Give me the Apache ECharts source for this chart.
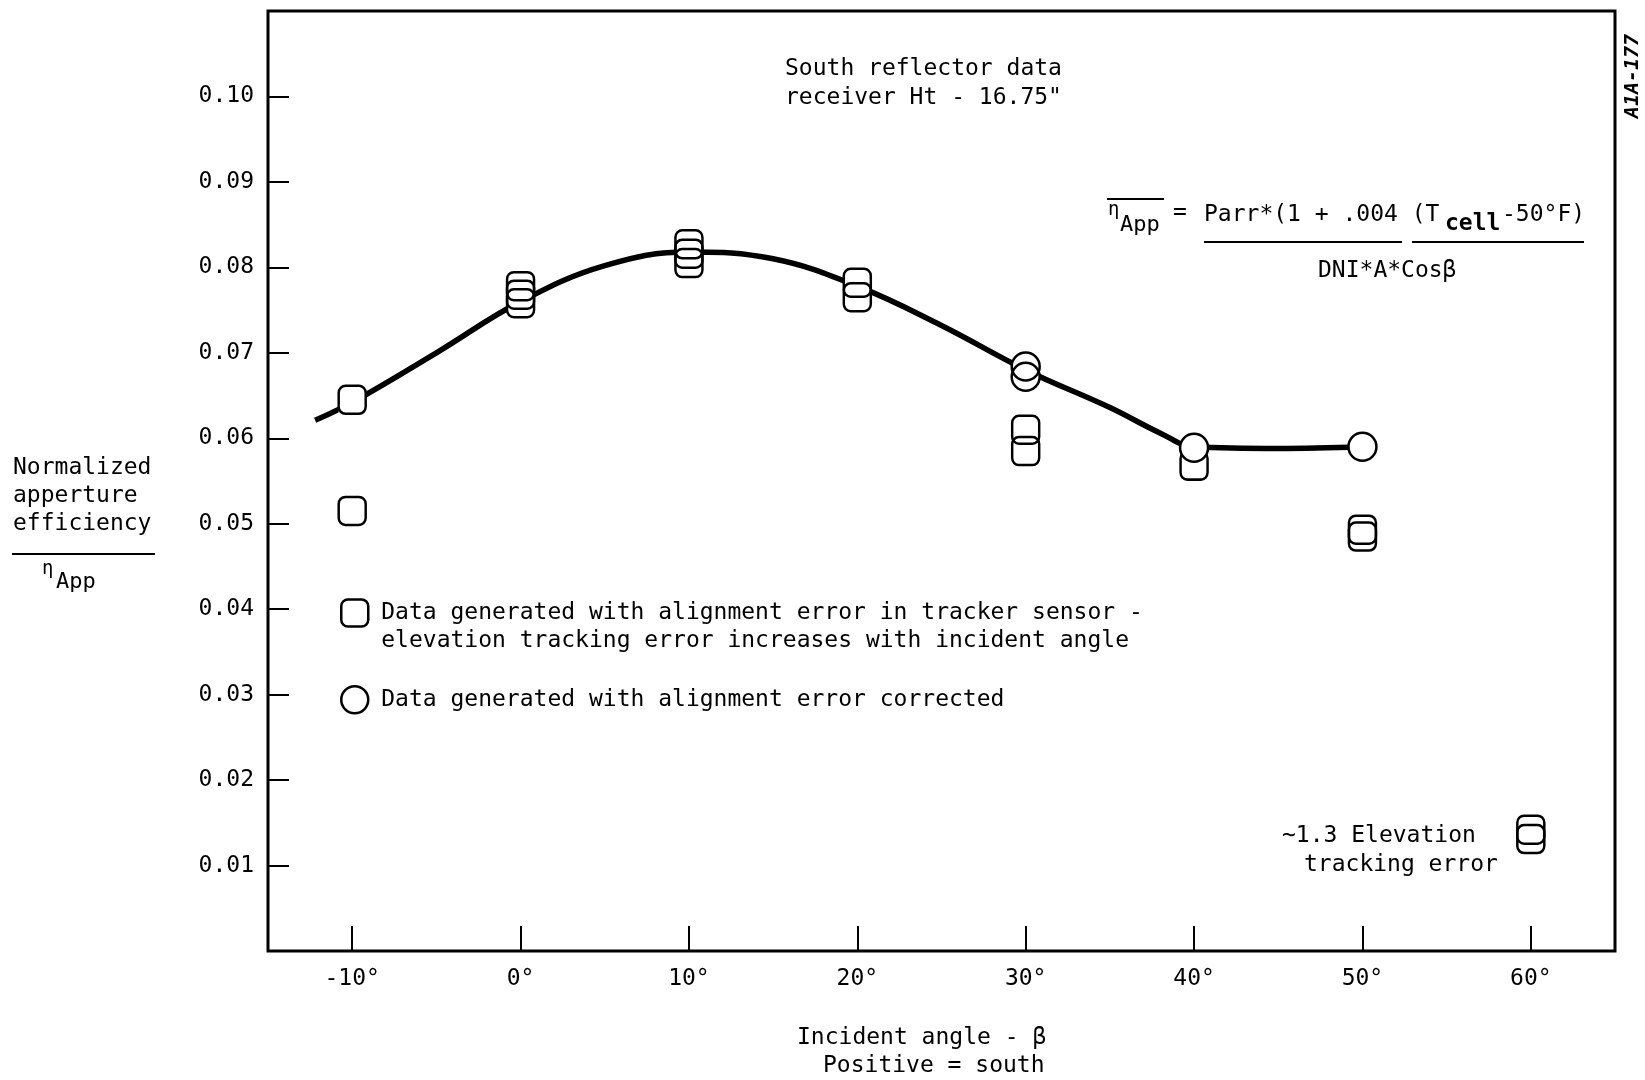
<!DOCTYPE html>
<html>
<head>
<meta charset="utf-8">
<script src="https://cdn.jsdelivr.net/npm/echarts@6/dist/echarts.min.js"></script>
<style>
  html, body { margin: 0; padding: 0; background: #fff; }
  #main { width: 1645px; height: 1080px; }
</style>
</head>
<body>
<div id="main"></div>
<script>
var chartDom = document.getElementById('main');
var myChart = echarts.init(chartDom);
var option;

// tick values
let xTicks = [-10, 0, 10, 20, 30, 40, 50, 60];
let yTicks = [0.01, 0.02, 0.03, 0.04, 0.05, 0.06, 0.07, 0.08, 0.09, 0.10];

// faired curve through the data
let curveX = [-12.2, -10, -5, 0, 5, 10, 15, 20, 25, 30, 35, 38, 40, 45, 50];
let curveY = [0.0621, 0.0642, 0.0700, 0.0760, 0.0802, 0.0818, 0.0810, 0.0778, 0.0732, 0.0680, 0.0636, 0.0606, 0.0590, 0.0588, 0.0590];

// squares: alignment error in tracker sensor
let squareX = [-10, -10, 0, 0, 0, 10, 10, 10, 20, 20, 30, 30, 40, 50, 50, 60, 60];
let squareY = [0.0645, 0.0515, 0.0778, 0.0768, 0.0758, 0.0827, 0.0816, 0.0805, 0.0782, 0.0765, 0.0610, 0.0585, 0.0568, 0.0493, 0.0485, 0.0142, 0.0131];

// circles: alignment error corrected
let circleX = [30, 30, 40, 50];
let circleY = [0.0684, 0.0672, 0.0589, 0.0590];

let squareName = 'Data generated with alignment error in tracker sensor -\nelevation tracking error increases with incident angle';
let circleName = 'Data generated with alignment error corrected';

const FONT = "'DejaVu Sans Mono', monospace";

function pairs(xs, ys) {
    return xs.map(function(x, i) { return [x, ys[i]]; });
}

function txt(text, x, y, size, extra) {
    return {
        type: 'text',
        x: x,
        y: y,
        style: Object.assign({
            text: text,
            fill: '#000',
            font: size + 'px ' + FONT,
            verticalAlign: 'middle'
        }, extra || {})
    };
}

function hline(x1, x2, y, w) {
    return {
        type: 'line',
        shape: { x1: x1, y1: y, x2: x2, y2: y },
        style: { stroke: '#000', lineWidth: w || 2 }
    };
}

option = {
    backgroundColor: '#fff',
    animation: false,
    grid: {
        left: 268,
        right: 30,
        top: 11,
        bottom: 129,
        show: true,
        borderColor: '#000',
        borderWidth: 3
    },
    xAxis: {
        type: 'value',
        min: -15,
        max: 65,
        axisLine: { show: false, onZero: false },
        splitLine: { show: false },
        axisTick: {
            inside: true,
            length: 25,
            customValues: xTicks,
            lineStyle: { color: '#000', width: 2 }
        },
        axisLabel: {
            customValues: xTicks,
            margin: 17,
            color: '#000',
            fontFamily: FONT,
            fontSize: 23,
            formatter: function(v) { return v + '°'; }
        }
    },
    yAxis: {
        type: 'value',
        min: 0,
        max: 0.11,
        axisLine: { show: false, onZero: false },
        splitLine: { show: false },
        axisTick: {
            inside: true,
            length: 21,
            customValues: yTicks,
            lineStyle: { color: '#000', width: 2 }
        },
        axisLabel: {
            customValues: yTicks,
            margin: 14,
            color: '#000',
            fontFamily: FONT,
            fontSize: 23,
            formatter: function(v) { return v.toFixed(2); }
        }
    },
    legend: {
        orient: 'vertical',
        left: 340,
        top: 571,
        padding: 0,
        itemWidth: 27,
        itemHeight: 27,
        itemGap: 30,
        selectedMode: false,
        textStyle: {
            color: '#000',
            fontFamily: FONT,
            fontSize: 23,
            lineHeight: 28,
            padding: [0, 0, 0, 8]
        },
        // blank first line keeps the square level with the first text line
        formatter: function(name) {
            return name === squareName ? ' \n' + name : name;
        },
        data: [{
            name: squareName,
            icon: 'roundRect',
            itemStyle: { color: '#fff', borderColor: '#000', borderWidth: 2.5 }
        }, {
            name: circleName,
            icon: 'circle',
            itemStyle: { color: '#fff', borderColor: '#000', borderWidth: 2.5 }
        }]
    },
    graphic: [
        // title note
        txt('South reflector data', 785, 69, 23),
        txt('receiver Ht - 16.75"', 785, 98, 23),
        // formula
        hline(1107, 1164, 199, 2),
        txt('η', 1108, 210, 19),
        txt('App', 1120, 225, 22),
        txt('=', 1173, 213, 23),
        txt('Parr*(1 + .004 (T', 1204, 215, 23),
        txt('cell', 1445, 224, 23, { font: 'bold 23px ' + FONT }),
        txt('-50°F)', 1502, 215, 23),
        hline(1204, 1402, 242, 2),
        hline(1412, 1584, 242, 2),
        txt('DNI*A*Cosβ', 1318, 271, 23),
        // y axis title
        txt('Normalized', 13, 468, 23),
        txt('apperture', 13, 496, 23),
        txt('efficiency', 13, 524, 23),
        hline(12, 155, 554, 2),
        txt('η', 42, 569, 19),
        txt('App', 56, 582, 22),
        // x axis title
        txt('Incident angle - β', 797, 1038, 23),
        txt('Positive = south', 823, 1066, 23),
        // annotation near 60°
        txt('∼1.3 Elevation', 1282, 836, 23),
        txt('tracking error', 1304, 865, 23),
        // margin note
        {
            type: 'text',
            x: 1633,
            y: 76,
            rotation: Math.PI / 2,
            style: {
                text: 'A1A-177',
                fill: '#000',
                font: 'italic bold 20px ' + FONT,
                align: 'center',
                verticalAlign: 'middle'
            }
        }
    ],
    series: [{
        type: 'line',
        name: 'curve',
        data: pairs(curveX, curveY),
        smooth: 0.4,
        showSymbol: false,
        lineStyle: { color: '#000', width: 5.5 },
        z: 1
    }, {
        type: 'scatter',
        name: 'squareFill',
        data: pairs(squareX, squareY),
        symbol: 'rect',
        symbolSize: [27, 28],
        itemStyle: { color: '#fff', opacity: 1 },
        silent: true,
        z: 2
    }, {
        type: 'scatter',
        name: squareName,
        data: pairs(squareX, squareY),
        symbol: 'roundRect',
        symbolSize: [27, 28],
        itemStyle: { color: 'rgba(0,0,0,0)', borderColor: '#000', borderWidth: 2.5, opacity: 1 },
        z: 3
    }, {
        type: 'scatter',
        name: 'circleFill',
        data: pairs(circleX, circleY),
        symbol: 'circle',
        symbolSize: 28,
        itemStyle: { color: '#fff', opacity: 1 },
        silent: true,
        z: 4
    }, {
        type: 'scatter',
        name: circleName,
        data: pairs(circleX, circleY),
        symbol: 'circle',
        symbolSize: 28,
        itemStyle: { color: 'rgba(0,0,0,0)', borderColor: '#000', borderWidth: 2.5, opacity: 1 },
        z: 5
    }]
};

option && myChart.setOption(option);
</script>
</body>
</html>
